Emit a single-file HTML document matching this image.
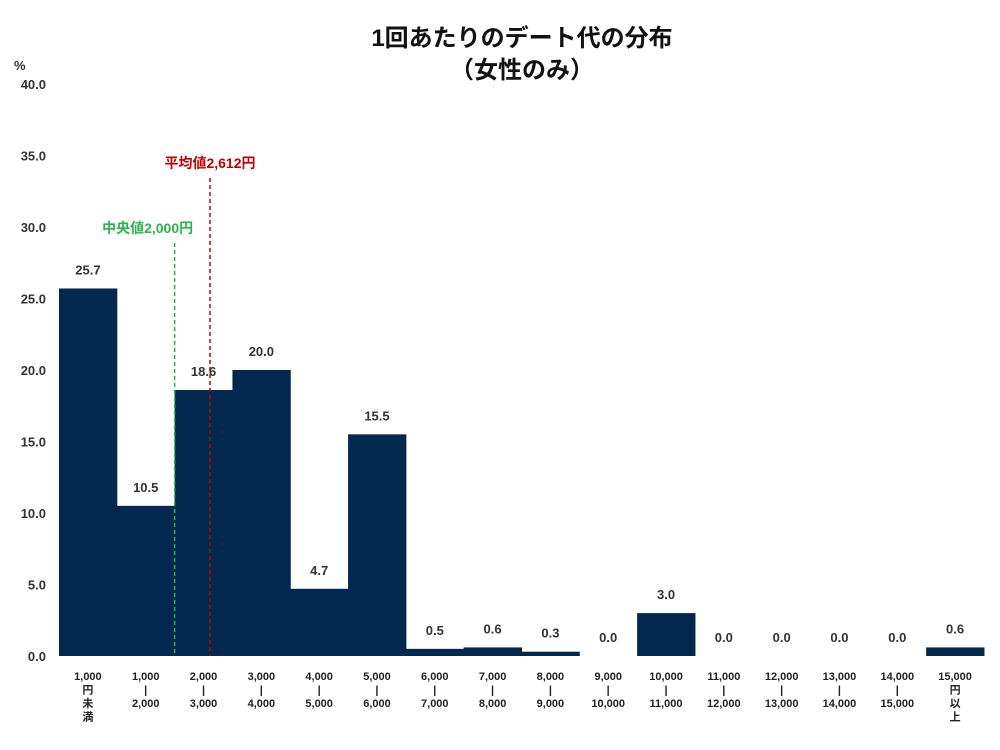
<!DOCTYPE html>
<html><head><meta charset="utf-8">
<style>
body{margin:0;background:#fff;}
svg text{font-family:"Liberation Sans","Noto Sans CJK JP",sans-serif;}
</style></head>
<body>
<svg id="chart" width="1000" height="745" viewBox="0 0 1000 745" xmlns="http://www.w3.org/2000/svg">
<text x="522" y="46" text-anchor="middle" font-size="24" font-weight="bold" fill="#111">1回あたりのデート代の分布</text>
<text x="522" y="78" text-anchor="middle" font-size="24" font-weight="bold" fill="#111">（女性のみ）</text>
<text x="14" y="70" font-size="13" font-weight="bold" fill="#333">%</text>
<g id="yticks"></g><g id="bars"></g><g id="xlabels"></g><g id="refs"></g>
</svg>
<script>
const categories = [["1,000","円","未","満"],["1,000","|","2,000"],["2,000","|","3,000"],["3,000","|","4,000"],["4,000","|","5,000"],["5,000","|","6,000"],["6,000","|","7,000"],["7,000","|","8,000"],["8,000","|","9,000"],["9,000","|","10,000"],["10,000","|","11,000"],["11,000","|","12,000"],["12,000","|","13,000"],["13,000","|","14,000"],["14,000","|","15,000"],["15,000","円","以","上"]];
const values = [25.7,10.5,18.6,20.0,4.7,15.5,0.5,0.6,0.3,0.0,3.0,0.0,0.0,0.0,0.0,0.6];
const yTicks = [0,5,10,15,20,25,30,35,40];
const medianValue = 2000, meanValue = 2612;
const NS="http://www.w3.org/2000/svg";
const y0=656, yTop=84, x0=59, x1=984;
const bw=(x1-x0)/values.length;
function yScale(v){return y0-(v/40)*(y0-yTop);}
function xScale(i){return x0+bw*i;}
// yen: bin 0 = <1000, bin k = [1000k, 1000(k+1))
function xYen(yen){return x0+bw*(yen/1000);}
function mk(tag,attrs,parent){const e=document.createElementNS(NS,tag);for(const k in attrs)e.setAttribute(k,attrs[k]);parent.appendChild(e);return e;}
const gy=document.getElementById('yticks');
yTicks.forEach(t=>{const e=mk('text',{x:46,y:yScale(t)+5,'text-anchor':'end','font-size':13,'font-weight':'bold',fill:'#333'},gy);


e.textContent=t.toFixed(1);});
const gb=document.getElementById('bars');
values.forEach((v,i)=>{
 const r=mk('rect',{x:xScale(i),y:yScale(v),width:bw+0.5,height:y0-yScale(v),fill:'#032850'},gb);
 
 
 const t=mk('text',{x:xScale(i)+bw/2,y:yScale(v)-14,'text-anchor':'middle','font-size':13,'font-weight':'bold',fill:'#333'},gb);
 
 
 t.textContent=v.toFixed(1);
});
const gx=document.getElementById('xlabels');
categories.forEach((lines,i)=>{
 const t=mk('text',{'text-anchor':'middle','font-size':11,'font-weight':'bold',fill:'#222'},gx);
 
 
 lines.forEach((s,j)=>{const sp=mk('tspan',{x:xScale(i)+bw/2,y:680+j*13.5},t);sp.textContent=s;});
});
const gr=document.getElementById('refs');
const mx=xYen(medianValue);
const ml=mk('line',{x1:mx,x2:mx,y1:243,y2:656,stroke:'#2db34a','stroke-width':1.5,'stroke-dasharray':'4,3'},gr);


const mt=mk('text',{x:mx-27,y:233,'text-anchor':'middle','font-size':14,'font-weight':'bold',fill:'#2db34a'},gr);


mt.textContent='中央値2,000円';
const ax=xYen(meanValue);
const al=mk('line',{x1:ax,x2:ax,y1:178,y2:656,stroke:'#c00000','stroke-width':1.5,'stroke-dasharray':'4,3'},gr);


const at=mk('text',{x:ax,y:168,'text-anchor':'middle','font-size':14,'font-weight':'bold',fill:'#c00000'},gr);


at.textContent='平均値2,612円';
</script>
</body></html>
